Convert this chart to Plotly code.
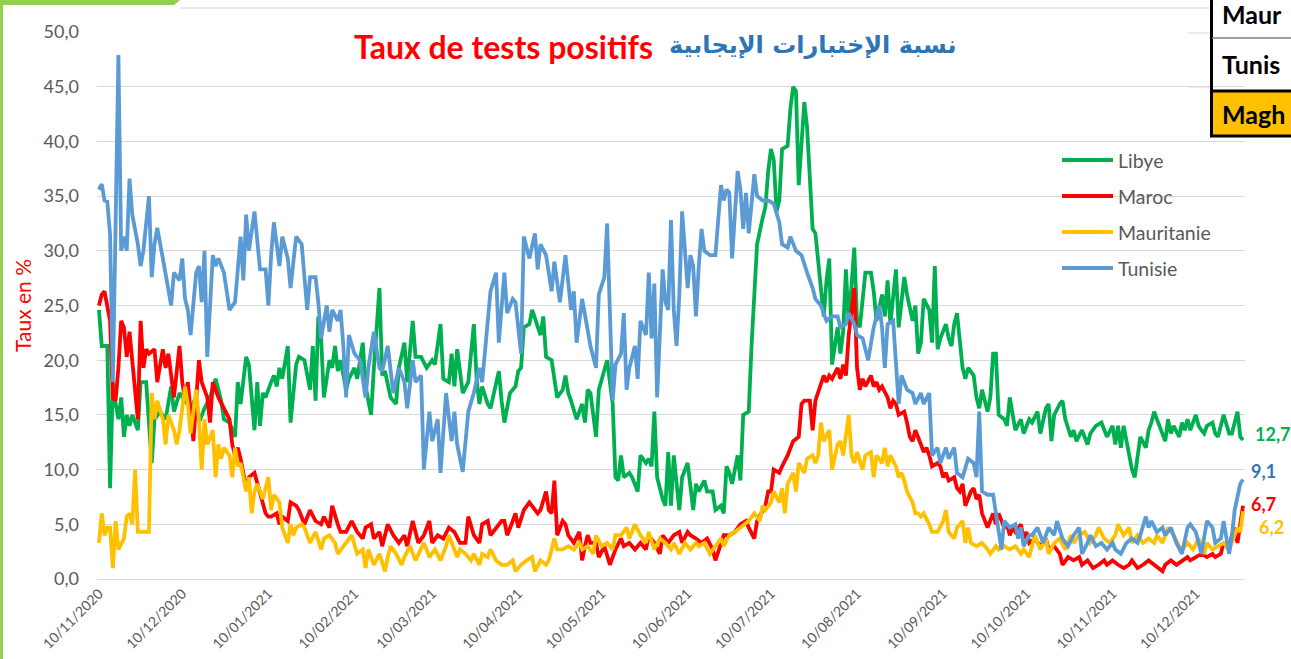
import pandas as pd
import plotly.graph_objects as go

START_DATE = "2020-11-10"

series_names = ["Libye", "Maroc", "Mauritanie", "Tunisie"]
series_colors = ["#00B050", "#FF0000", "#FFC000", "#5B9BD5"]
label_colors = ["#00B050", "#FF0000", "#FFC000", "#2E75B6"]

libye_days = [0,1,2,3,4,5,6,7,8,9,10,11,12,14,15,17,19,20,22,24,26,27,29,31,33,35,36,38,40,42,44,45,47,49,50,51,53,54,56,57,58,59,60,62,63,64,65,66,68,69,71,72,74,76,77,78,79,80,81,83,84,85,86,87,89,90,92,93,95,96,98,99,101,102,103,105,107,108,110,111,113,114,116,118,120,121,123,124,126,127,128,129,131,133,135,136,137,138,140,141,143,144,145,146,148,150,151,152,153,155,156,158,159,160,161,163,165,167,168,169,170,172,174,175,176,177,179,180,182,183,185,186,187,188,189,191,192,194,195,197,198,199,200,201,203,204,205,206,207,209,210,212,214,215,216,218,219,221,222,224,225,226,227,228,230,231,232,234,235,236,237,239,240,241,242,243,244,245,246,248,249,250,251,252,254,255,256,257,258,260,261,262,263,264,266,267,268,269,270,272,273,274,276,278,279,280,282,283,284,285,287,288,289,290,291,293,294,295,296,297,299,300,301,302,303,305,306,307,308,309,311,312,313,315,316,317,318,320,321,322,323,324,326,327,328,329,330,332,333,335,336,338,339,341,342,343,344,346,347,348,350,351,352,354,356,357,359,361,363,365,366,367,368,369,371,372,373,374,375,377,378,379,380,381,383,384,385,386,387,389,390,391,392,393,395,396,397,398,399,401,402,403,405,407,408,410,411,412]
libye_vals = [24.6,21.3,21.3,21.3,8.3,18.0,16.0,14.6,16.6,13.0,15.0,14.0,15.0,13.6,18.0,18.0,10.6,14.6,15.3,14.6,17.6,15.3,17.0,16.3,15.6,16.6,14.3,15.6,16.6,18.3,16.3,14.6,14.3,13.0,18.0,16.0,20.3,19.6,13.6,18.0,14.0,17.0,16.6,18.0,18.6,17.6,19.3,18.3,21.3,14.3,19.6,20.3,20.0,17.3,21.3,16.3,24.0,22.0,16.6,20.0,19.3,21.3,19.0,20.0,17.3,18.3,19.3,18.3,21.6,17.6,15.0,19.3,26.6,18.6,19.0,16.6,16.0,19.3,21.6,18.0,23.6,20.3,20.3,19.3,20.0,19.6,23.3,18.3,18.0,20.6,17.6,21.0,17.0,18.0,23.3,18.3,16.0,17.6,16.0,15.6,18.0,19.0,16.3,14.3,17.0,17.6,19.0,19.3,23.0,23.3,24.6,23.0,22.3,24.0,20.3,20.0,16.6,17.3,18.6,17.0,16.3,14.6,16.0,14.3,17.3,17.0,13.0,17.3,19.3,20.0,16.0,9.3,9.0,11.3,9.3,9.7,9.3,8.0,11.3,10.6,11.0,10.3,15.3,9.3,7.3,6.7,11.6,6.7,11.3,6.3,9.3,10.6,6.3,8.7,8.0,9.0,8.0,8.0,6.3,6.7,6.0,10.3,9.7,8.7,11.3,9.0,15.0,15.3,21.3,26.3,30.6,33.0,34.0,37.3,39.3,38.3,33.6,34.6,39.3,39.6,43.0,45.0,44.6,36.0,43.6,41.3,37.3,32.0,31.6,26.3,24.0,27.3,29.3,19.6,23.0,20.6,22.6,28.3,23.3,30.3,23.6,23.0,28.0,28.0,26.3,23.6,26.0,24.0,27.3,23.3,28.3,23.0,25.0,27.6,26.0,23.6,25.0,20.6,21.6,25.6,24.6,21.6,28.6,21.0,22.0,23.3,22.0,21.3,23.3,24.3,19.3,18.3,19.3,18.6,16.6,15.6,17.3,15.3,16.6,20.6,20.6,15.0,14.6,14.0,16.6,15.0,13.6,14.6,13.3,14.6,14.3,15.3,13.3,15.6,16.0,12.6,15.0,16.0,16.3,14.6,13.0,13.6,12.6,13.6,12.3,13.3,14.0,14.3,13.0,14.0,12.3,14.0,12.0,14.0,11.3,10.0,9.3,11.3,13.0,12.0,13.6,14.3,15.3,14.6,13.3,12.6,14.6,13.3,14.0,13.0,14.3,13.6,14.6,13.6,15.0,14.0,13.6,13.3,14.0,14.3,13.3,13.0,15.0,13.3,13.3,15.3,13.0,12.7]

maroc_days = [0,1,2,3,4,5,6,7,8,9,10,11,12,14,15,16,17,18,20,21,23,24,25,27,29,30,31,32,34,36,37,39,40,41,43,45,47,48,49,50,51,53,54,56,58,60,61,62,64,65,66,68,69,71,72,74,76,78,80,81,83,84,86,87,89,91,93,95,96,98,99,101,102,104,106,108,110,111,113,115,117,119,120,122,124,126,128,129,130,132,133,135,137,138,140,141,143,145,146,147,149,150,151,153,155,156,158,159,161,162,163,164,165,167,168,169,171,173,174,175,176,177,179,180,182,184,186,188,189,191,193,195,197,198,200,202,203,205,207,209,210,212,213,215,217,219,221,222,224,225,227,229,231,233,234,236,237,239,240,241,242,243,245,246,248,250,252,253,254,256,257,258,260,261,262,263,264,266,267,268,269,270,272,273,274,275,276,278,279,280,281,282,284,285,286,287,288,290,291,292,293,294,296,297,298,299,300,302,303,304,305,306,308,309,310,311,312,314,315,316,317,318,320,321,322,323,324,326,327,328,329,330,332,333,334,335,337,339,341,342,344,346,347,349,351,353,354,356,358,360,362,363,365,367,369,371,372,374,376,378,380,381,383,384,386,388,390,392,393,395,397,399,401,402,404,405,407,408,409,410,411,412]
maroc_vals = [25.0,26.0,26.3,25.0,23.6,16.6,16.3,19.3,23.6,23.0,20.3,22.6,19.6,14.6,23.6,19.3,21.0,20.6,21.0,18.0,21.0,19.3,20.6,16.6,21.3,18.0,16.3,18.0,12.6,20.0,18.0,16.6,14.3,18.0,16.6,15.6,14.6,12.3,11.3,12.0,11.0,8.3,9.3,9.7,7.7,6.0,5.7,5.7,6.0,5.0,5.7,5.3,7.0,6.7,6.3,5.0,6.3,5.3,5.0,5.7,4.7,6.7,5.0,4.3,4.3,5.3,4.3,3.7,4.7,5.0,3.7,4.3,3.0,5.0,4.0,3.3,4.0,3.0,5.3,3.3,4.0,5.3,3.3,4.0,3.7,4.7,4.3,3.7,3.3,3.3,5.7,4.0,3.3,5.0,5.3,4.0,4.7,5.3,5.3,4.0,5.3,6.0,4.7,6.3,7.0,6.7,6.0,6.3,8.0,6.3,6.0,9.0,4.0,5.3,5.0,4.0,3.3,4.3,1.7,3.0,4.0,3.3,3.3,2.0,3.0,1.3,2.7,3.7,3.0,3.3,2.7,3.3,2.7,4.0,3.3,2.3,4.0,3.3,4.0,4.3,3.3,4.3,4.0,3.7,3.3,3.7,2.7,1.7,3.3,4.0,4.0,4.3,5.0,5.3,4.7,3.7,5.3,6.3,6.7,8.0,8.0,10.0,9.7,10.3,11.3,12.6,13.0,16.0,16.3,16.3,13.6,16.3,18.0,18.6,18.0,18.6,18.3,19.3,18.3,19.6,18.6,22.3,26.6,19.3,17.3,18.3,17.6,18.6,17.6,18.0,17.3,17.6,16.6,15.6,16.3,16.0,15.0,15.3,14.3,13.0,12.6,13.6,12.3,11.6,12.0,11.3,10.3,10.6,10.3,9.3,9.7,9.0,9.3,8.3,8.0,8.7,6.7,8.0,8.3,7.3,7.7,6.0,4.7,5.3,6.0,5.0,6.0,4.7,5.0,4.0,4.7,4.3,5.0,3.7,4.3,3.3,3.7,3.0,3.7,2.7,3.0,2.3,1.3,2.0,1.7,2.0,1.3,1.7,1.0,1.3,1.7,1.3,1.7,1.3,1.0,1.3,1.7,1.0,1.3,1.7,1.3,1.0,0.7,1.3,1.7,1.3,1.7,2.0,1.7,2.0,2.3,2.0,2.3,2.0,2.3,3.3,2.7,4.0,4.7,3.3,5.3,6.7]

mauritanie_days = [0,1,2,3,4,5,6,7,9,10,11,12,13,14,15,17,18,19,20,21,23,24,25,27,28,29,31,32,33,35,36,37,38,39,41,42,43,44,45,47,48,49,50,51,53,54,55,56,57,59,61,62,63,65,66,68,69,70,71,73,74,76,78,80,81,83,85,86,88,90,91,93,95,96,97,98,99,101,103,104,105,107,109,110,112,114,116,117,119,121,123,125,126,128,129,130,132,134,135,137,138,140,141,143,145,147,149,150,152,154,156,157,159,161,162,164,165,167,169,171,173,174,176,178,179,181,183,185,186,188,190,191,193,195,197,198,200,202,204,206,207,209,211,213,215,216,218,220,222,224,225,227,229,231,233,234,236,238,239,240,242,243,245,246,247,248,250,251,252,254,255,257,258,259,260,261,263,264,266,267,268,270,271,272,273,275,276,278,279,280,282,283,284,285,287,288,289,290,291,293,294,295,296,297,299,300,302,304,305,306,308,309,311,312,313,314,316,318,320,321,323,324,326,328,330,332,333,335,337,339,341,342,344,346,348,350,351,353,355,357,359,360,362,364,366,367,369,371,372,374,376,378,380,381,383,385,387,389,390,392,394,396,398,399,401,403,405,407,408,410,411,412]
mauritanie_vals = [3.3,6.0,4.0,4.7,4.7,1.0,5.3,2.7,3.7,5.7,6.0,5.0,10.0,4.3,4.3,4.3,4.3,17.0,14.6,16.3,14.6,12.3,15.0,13.6,12.3,13.6,17.6,16.0,13.3,17.3,14.6,10.0,14.6,12.3,13.6,9.3,12.3,11.0,12.0,11.3,9.3,12.0,10.3,10.6,8.0,9.3,6.0,8.0,8.7,7.3,9.3,6.3,7.7,7.0,4.7,3.3,5.0,4.0,4.7,5.0,4.7,3.3,4.3,2.7,3.7,4.0,3.3,2.3,3.0,3.7,4.0,2.3,2.7,1.0,2.7,2.0,1.3,2.3,0.7,2.0,3.0,2.3,1.3,2.0,3.0,1.7,2.7,3.3,2.0,2.7,1.7,3.0,4.0,2.7,2.0,2.7,2.3,1.7,2.3,1.3,2.3,2.0,2.7,1.7,1.3,1.3,1.7,0.7,1.3,1.7,2.0,0.7,1.7,1.3,1.7,3.7,2.7,2.7,3.0,2.7,3.3,2.7,3.0,2.3,4.0,3.0,3.3,2.7,4.0,4.0,4.7,3.7,5.0,4.0,3.3,4.3,2.7,3.7,3.3,2.7,3.3,2.3,3.3,2.7,3.3,3.0,3.3,2.3,3.0,3.7,3.0,4.0,4.3,4.7,5.0,5.3,6.0,5.3,6.7,6.3,7.0,8.0,7.0,8.3,6.0,8.7,9.7,8.0,10.6,9.7,11.0,11.3,10.6,11.3,14.3,12.6,13.6,10.0,12.3,12.6,11.3,15.0,11.3,10.6,11.6,10.0,11.3,11.6,9.3,11.3,10.6,12.0,10.3,11.3,10.3,9.3,9.7,9.0,8.0,7.0,6.0,6.0,5.7,6.0,5.0,4.3,4.3,5.3,6.3,4.3,3.7,4.7,5.3,3.3,4.7,3.3,3.0,3.3,2.7,2.3,3.0,2.7,3.0,2.7,3.0,2.3,2.7,2.0,4.0,2.7,3.7,2.3,3.3,3.7,2.7,4.0,3.3,4.0,4.3,3.3,4.0,4.7,3.7,3.3,4.0,5.0,4.0,4.7,3.3,4.0,3.3,3.7,3.3,4.0,3.3,4.7,4.0,3.0,2.7,3.3,2.7,3.7,2.3,3.3,2.7,3.0,3.3,2.7,3.3,4.7,4.3,6.2]

tunisie_days = [0,1,2,3,4,5,6,7,8,9,10,11,12,14,15,16,18,19,20,21,23,24,26,27,29,30,31,32,33,35,36,37,38,39,41,42,43,45,46,47,49,51,52,53,54,56,58,60,61,62,63,65,66,68,69,71,73,75,76,78,79,80,82,83,84,86,87,88,89,90,92,94,96,97,99,101,102,104,106,108,110,111,113,114,116,117,119,120,122,123,125,127,128,129,131,133,135,137,138,140,141,143,144,146,147,149,150,152,153,155,157,158,159,161,163,164,166,168,170,171,172,174,176,177,179,180,182,183,185,186,188,189,190,191,193,194,195,197,198,199,200,201,203,204,205,206,207,208,209,210,212,213,214,215,216,217,218,220,222,224,225,226,227,228,230,231,232,233,234,236,237,239,241,243,245,246,248,249,251,253,255,257,258,260,262,264,266,267,269,270,272,273,275,277,279,281,282,283,284,286,288,289,291,293,294,296,297,299,300,302,303,305,306,308,309,311,313,315,316,317,318,320,322,324,325,326,328,330,331,332,333,335,336,338,340,342,344,345,347,349,351,353,354,356,357,359,361,363,365,366,368,370,372,374,375,377,378,379,381,383,384,386,388,390,392,393,395,397,399,401,402,404,405,407,408,409,410,411,412]
tunisie_vals = [35.6,36.1,34.6,34.5,31.5,18.0,32.6,47.9,30.0,31.3,30.0,36.6,33.3,30.6,28.6,30.0,35.0,27.6,30.6,32.1,29.3,28.0,25.0,28.0,27.3,29.3,25.6,24.6,22.3,28.0,28.6,25.3,30.0,20.3,29.6,28.6,29.3,28.0,26.0,24.6,25.3,31.3,27.3,33.3,30.0,33.6,28.3,28.3,25.0,29.6,32.6,28.6,31.3,29.3,26.6,31.3,30.6,24.6,27.6,27.6,25.3,22.0,25.0,22.6,24.6,23.6,24.6,21.3,16.6,22.3,20.6,20.0,16.6,19.3,22.6,19.3,19.0,21.3,17.0,19.3,18.0,15.6,20.0,18.0,18.6,10.0,15.3,12.6,14.6,9.7,17.0,12.6,15.3,12.3,9.8,15.3,17.0,19.3,18.0,23.6,26.3,28.0,21.6,28.0,24.3,25.6,25.3,20.6,31.3,29.3,31.6,28.3,30.6,29.6,26.3,29.0,25.3,29.6,24.6,26.3,21.6,25.6,22.6,21.3,19.3,26.0,27.6,32.5,16.3,19.6,20.6,24.3,17.3,19.3,21.3,18.3,23.6,22.3,28.0,22.0,27.0,16.6,28.3,25.3,24.6,32.8,24.6,21.3,26.0,33.6,26.6,29.6,28.6,24.0,28.6,32.0,30.0,29.6,29.6,36.0,34.6,35.6,35.3,29.3,37.3,35.6,32.0,35.3,31.6,37.0,35.0,34.6,34.6,34.3,32.6,30.6,30.3,31.3,30.0,29.6,28.0,26.6,25.6,25.0,23.6,24.0,24.0,23.0,23.3,24.3,23.3,22.3,22.0,20.0,23.0,25.0,23.0,19.3,23.3,23.6,16.0,18.6,17.3,17.0,16.0,17.0,16.0,17.0,11.3,12.0,10.6,12.0,11.0,12.0,9.7,9.3,11.0,10.6,9.3,15.3,8.0,7.7,7.7,4.7,2.7,5.3,4.7,5.0,3.7,4.7,3.0,4.0,4.0,4.7,3.3,4.7,4.0,5.3,3.7,3.0,4.0,4.7,2.3,3.3,4.0,3.0,3.3,2.7,3.3,2.7,2.3,3.3,3.7,3.3,4.0,5.7,4.7,5.3,4.3,4.7,4.0,4.7,3.3,2.3,4.7,5.0,4.3,2.3,5.3,4.7,3.3,3.7,5.3,2.3,4.0,6.3,7.6,8.7,9.1]

series_days = [libye_days, maroc_days, mauritanie_days, tunisie_days]
series_vals = [libye_vals, maroc_vals, mauritanie_vals, tunisie_vals]

tick_dates = ["2020-11-10", "2020-12-10", "2021-01-10", "2021-02-10", "2021-03-10",
              "2021-04-10", "2021-05-10", "2021-06-10", "2021-07-10", "2021-08-10",
              "2021-09-10", "2021-10-10", "2021-11-10", "2021-12-10"]
y_ticks = [0, 5, 10, 15, 20, 25, 30, 35, 40, 45, 50]

title_fr = "Taux de tests positifs"
title_ar = "نسبة الإختبارات الإيجابية"
y_title = "Taux en %"
table_rows = ["Maur", "Tunis", "Magh"]

for d, v in zip(series_days, series_vals):
    assert len(d) == len(v), (len(d), len(v))

start = pd.Timestamp(START_DATE)

def to_dates(days):
    return start + pd.to_timedelta(days, unit="D")

W, H = 1291, 659
ML, MR, MT, MB = 97, 46, 32, 80
PW, PH = W - ML - MR, H - MT - MB

def px(x):
    return (x - ML) / PW

def py(y):
    return (H - MB - y) / PH

FONT = "Lato, 'Open Sans', sans-serif"
GRAY = "#595959"

fig = go.Figure()
for name, color, d, v in zip(series_names, series_colors, series_days, series_vals):
    fig.add_trace(go.Scatter(
        x=to_dates(d), y=v, mode="lines", name=name,
        line=dict(color=color, width=3.8),
        showlegend=False, hoverinfo="skip",
    ))

shapes = []
annotations = []

# decorative frame (Excel sheet)
shapes.append(dict(type="rect", xref="paper", yref="paper", x0=px(0), x1=px(3), y0=py(H), y1=py(0),
                   fillcolor="#92D050", line=dict(width=0), layer="above"))
shapes.append(dict(type="path", xref="paper", yref="paper",
                   path=f"M {px(0)},{py(0)} L {px(180)},{py(0)} L {px(174)},{py(5)} L {px(0)},{py(5)} Z",
                   fillcolor="#92D050", line=dict(width=0), layer="above"))
shapes.append(dict(type="line", xref="paper", yref="paper", x0=px(180), x1=px(1210), y0=py(8), y1=py(8),
                   line=dict(color="#D9D9D9", width=1)))
for yy in (33, 87):
    shapes.append(dict(type="line", xref="paper", yref="paper", x0=px(1188), x1=px(1210), y0=py(yy), y1=py(yy),
                       line=dict(color="#D9D9D9", width=1)))
# table at top right
shapes.append(dict(type="rect", xref="paper", yref="paper", x0=px(1213), x1=px(1292), y0=py(135), y1=py(92),
                   fillcolor="#FFC000", line=dict(width=0), layer="above"))
shapes.append(dict(type="line", xref="paper", yref="paper", x0=px(1211.5), x1=px(1211.5), y0=py(0), y1=py(137),
                   line=dict(color="black", width=3), layer="above"))
shapes.append(dict(type="line", xref="paper", yref="paper", x0=px(1212), x1=px(1292), y0=py(38), y1=py(38),
                   line=dict(color="#7F7F7F", width=1.5), layer="above"))
shapes.append(dict(type="line", xref="paper", yref="paper", x0=px(1212), x1=px(1292), y0=py(91), y1=py(91),
                   line=dict(color="black", width=3), layer="above"))
shapes.append(dict(type="line", xref="paper", yref="paper", x0=px(1210), x1=px(1292), y0=py(136), y1=py(136),
                   line=dict(color="black", width=3), layer="above"))
for txt, yy in zip(table_rows, (14, 64, 114)):
    annotations.append(dict(text=f"<b>{txt}</b>", xref="paper", yref="paper", x=px(1220), y=py(yy),
                            xanchor="left", yanchor="middle", showarrow=False,
                            font=dict(family="Lato, sans-serif", size=25, color="black")))

# titles
annotations.append(dict(text=f"<b>{title_fr}</b>", xref="paper", yref="paper", x=px(655), y=py(47),
                        xanchor="right", yanchor="middle", showarrow=False,
                        font=dict(family=FONT, size=32, color="#FF0000")))
annotations.append(dict(text=f"<b>{title_ar}</b>", xref="paper", yref="paper", x=px(667), y=py(45),
                        xanchor="left", yanchor="middle", showarrow=False,
                        font=dict(family="'DejaVu Sans', sans-serif", size=24, color="#2E75B6")))
annotations.append(dict(text=y_title, xref="paper", yref="paper", x=px(22), y=py(306),
                        xanchor="center", yanchor="middle", textangle=-90, showarrow=False,
                        font=dict(family=FONT, size=21, color="#FF0000")))

# legend (drawn like Excel's)
for i, (name, color) in enumerate(zip(series_names, series_colors)):
    yy = 160 + 36 * i
    shapes.append(dict(type="line", xref="paper", yref="paper", x0=px(1062), x1=px(1113), y0=py(yy), y1=py(yy),
                       line=dict(color=color, width=4), layer="above"))
    annotations.append(dict(text=name, xref="paper", yref="paper", x=px(1116), y=py(yy),
                            xanchor="left", yanchor="middle", showarrow=False,
                            font=dict(family=FONT, size=19.5, color=GRAY)))

# end-value labels
shifts = {"Libye": (10, 6), "Maroc": (6, 2), "Mauritanie": (14, -16), "Tunisie": (6, 8)}
for name, lc, d, v in zip(series_names, label_colors, series_days, series_vals):
    xs, ys = shifts[name]
    annotations.append(dict(text="<b>" + f"{v[-1]:.1f}".replace(".", ",") + "</b>",
                            x=to_dates([d[-1]])[0], y=v[-1], xref="x", yref="y",
                            xanchor="left", yanchor="middle", xshift=xs, yshift=ys, showarrow=False,
                            font=dict(family=FONT, size=18, color=lc)))

x0 = start - pd.Timedelta(hours=17)
x1 = start + pd.Timedelta(days=412, hours=17)

fig.update_layout(
    width=W, height=H,
    margin=dict(l=ML, r=MR, t=MT, b=MB, autoexpand=False),
    paper_bgcolor="white", plot_bgcolor="white",
    separators=", ",
    showlegend=False,
    font=dict(family=FONT, color=GRAY),
    shapes=shapes, annotations=annotations,
    xaxis=dict(type="date", range=[x0, x1], tickvals=tick_dates, tickformat="%d/%m/%Y",
               tickangle=-45, tickfont=dict(size=14, color=GRAY), showgrid=False, automargin=False,
               showline=True, linecolor="#D9D9D9", linewidth=1, ticks="", zeroline=False),
    yaxis=dict(range=[0, 50], tickvals=y_ticks, tickformat=".1f", showgrid=True, automargin=False,
               gridcolor="#D9D9D9", gridwidth=1, zeroline=False, ticks="",
               tickfont=dict(size=18, color=GRAY), ticklabelstandoff=17),
)

fig.write_html("out.html", config={"displayModeBar": False},
               post_script="document.body.style.margin='0';document.body.style.overflow='hidden';")
